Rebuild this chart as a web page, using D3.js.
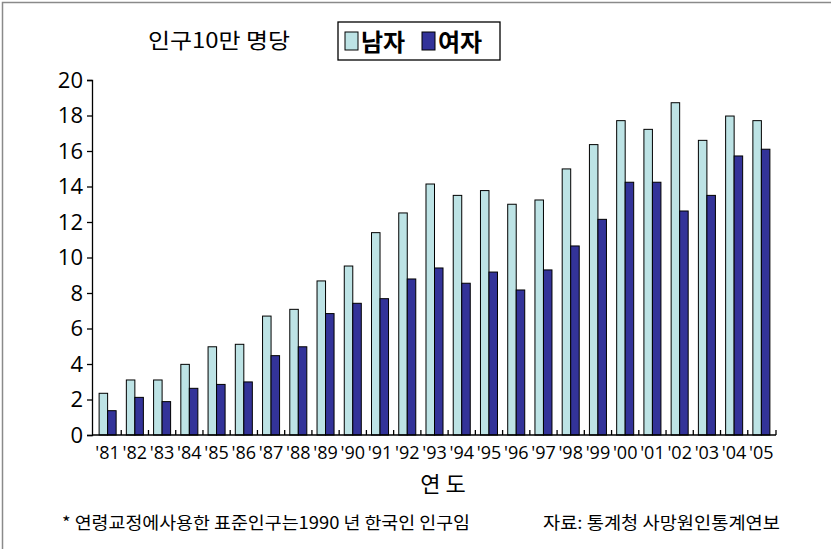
<!DOCTYPE html>
<html>
<head>
<meta charset="utf-8">
<script src="https://cdn.jsdelivr.net/npm/d3@7"></script>
<style>
  body { margin: 0; background: #fff; }
  svg { display: block; font-family: "Noto Sans CJK KR", "Noto Sans", sans-serif; }
</style>
</head>
<body>
<svg id="chart"></svg>
<script>
// 연도별, 인구10만 명당 (연령표준화)
var years = ["'81","'82","'83","'84","'85","'86","'87","'88","'89","'90","'91","'92","'93",
             "'94","'95","'96","'97","'98","'99","'00","'01","'02","'03","'04","'05"];
var male   = [2.35, 3.1, 3.1, 3.98, 4.97, 5.11, 6.7, 7.08, 8.68, 9.52, 11.4, 12.51, 14.14,
              13.5, 13.77, 13.0, 13.24, 14.99, 16.36, 17.71, 17.22, 18.72, 16.6, 17.97, 17.71];
var female = [1.37, 2.12, 1.88, 2.63, 2.85, 2.99, 4.47, 4.97, 6.84, 7.42, 7.68, 8.79, 9.41,
              8.55, 9.18, 8.17, 9.3, 10.65, 12.15, 14.24, 14.24, 12.62, 13.5, 15.72, 16.1];
var seriesNames = ["남자", "여자"];
var yTicks = [0, 2, 4, 6, 8, 10, 12, 14, 16, 18, 20];

var W = 831, H = 549;
var colors = { "남자": "#bde3e5", "여자": "#333399" };
var plot = { left: 92, right: 775, top: 80, bottom: 435 };

var svg = d3.select("#chart").attr("width", W).attr("height", H);

// 바깥 테두리
svg.append("rect")
    .attr("x", 2.5).attr("y", 2.5)
    .attr("width", W + 10).attr("height", H + 10)
    .attr("fill", "none").attr("stroke", "#8a8a8a").attr("stroke-width", 1.5);

var x = d3.scaleBand().domain(years).range([plot.left + 2, plot.right]).paddingInner(0).paddingOuter(0);
var x1 = d3.scaleBand().domain(seriesNames).range([0, x.bandwidth()]).paddingInner(0).paddingOuter(0.6);
var y = d3.scaleLinear().domain([0, 20]).range([plot.bottom, plot.top]);

var rows = years.map(function(d, i) { return { year: d, "남자": male[i], "여자": female[i] }; });

// 막대
var groups = svg.append("g").selectAll("g")
    .data(rows)
    .enter().append("g")
    .attr("transform", function(d) { return "translate(" + x(d.year) + ",0)"; });

groups.selectAll("rect")
    .data(function(d) { return seriesNames.map(function(s) { return { key: s, value: d[s] }; }); })
    .enter().append("rect")
    .attr("x", function(d) { return x1(d.key); })
    .attr("y", function(d) { return y(d.value); })
    .attr("width", x1.bandwidth())
    .attr("height", function(d) { return plot.bottom - y(d.value); })
    .attr("fill", function(d) { return colors[d.key]; })
    .attr("stroke", "#000")
    .attr("stroke-width", 1);

// y 축
var ejeY = d3.axisLeft(y).tickValues(yTicks).tickSize(5).tickPadding(4);
var gy = svg.append("g")
    .attr("transform", "translate(" + plot.left + ",0)")
    .call(ejeY);
gy.select(".domain").attr("stroke", "#000").attr("stroke-width", 1.3);
gy.selectAll("line").attr("stroke", "#000").attr("stroke-width", 1.3);
gy.selectAll("text").attr("font-size", 22).attr("fill", "#000")
    .attr("font-family", "'Open Sans', sans-serif");

// x 축
var gx = svg.append("g");
gx.append("line")
    .attr("x1", plot.left).attr("x2", plot.right + 1)
    .attr("y1", plot.bottom).attr("y2", plot.bottom)
    .attr("stroke", "#000").attr("stroke-width", 1.3);
var tickX = years.slice(1).map(function(d) { return x(d); }).concat([plot.right + 1]);
gx.selectAll(".tick")
    .data(tickX)
    .enter().append("line")
    .attr("x1", function(d) { return d; })
    .attr("x2", function(d) { return d; })
    .attr("y1", plot.bottom).attr("y2", plot.bottom - 5)
    .attr("stroke", "#000").attr("stroke-width", 1.3);
gx.selectAll("text")
    .data(years)
    .enter().append("text")
    .attr("x", function(d) { return x(d) + x.bandwidth() / 2; })
    .attr("y", plot.bottom + 24)
    .attr("text-anchor", "middle")
    .attr("font-size", 18)
    .attr("font-family", "'Open Sans', sans-serif")
    .text(function(d) { return d; });

// 제목 / 범례
svg.append("text")
    .attr("x", 148).attr("y", 48)
    .attr("font-size", 21)
    .attr("textLength", 142).attr("lengthAdjust", "spacingAndGlyphs")
    .text("인구10만 명당");

var legend = svg.append("g").attr("transform", "translate(338,22)");
legend.append("rect")
    .attr("width", 162).attr("height", 38)
    .attr("fill", "#fff").attr("stroke", "#000").attr("stroke-width", 1.3);
var lx = [7, 84];
seriesNames.forEach(function(s, i) {
    legend.append("rect")
        .attr("x", lx[i]).attr("y", 10)
        .attr("width", 13).attr("height", 18)
        .attr("fill", colors[s]).attr("stroke", "#000").attr("stroke-width", 1);
    legend.append("text")
        .attr("x", lx[i] + 16).attr("y", 29)
        .attr("font-size", 24).attr("font-weight", "bold")
        .text(s);
});

// 축 제목, 주석
svg.append("text")
    .attr("x", 443).attr("y", 492)
    .attr("text-anchor", "middle")
    .attr("font-size", 22)
    .text("연 도");

svg.append("text")
    .attr("x", 62).attr("y", 529)
    .attr("font-size", 17)
    .attr("textLength", 408).attr("lengthAdjust", "spacingAndGlyphs")
    .text("* 연령교정에사용한 표준인구는1990 년 한국인 인구임");

svg.append("text")
    .attr("x", 543).attr("y", 529)
    .attr("font-size", 17)
    .attr("textLength", 237).attr("lengthAdjust", "spacingAndGlyphs")
    .text("자료: 통계청 사망원인통계연보");
</script>
</body>
</html>
